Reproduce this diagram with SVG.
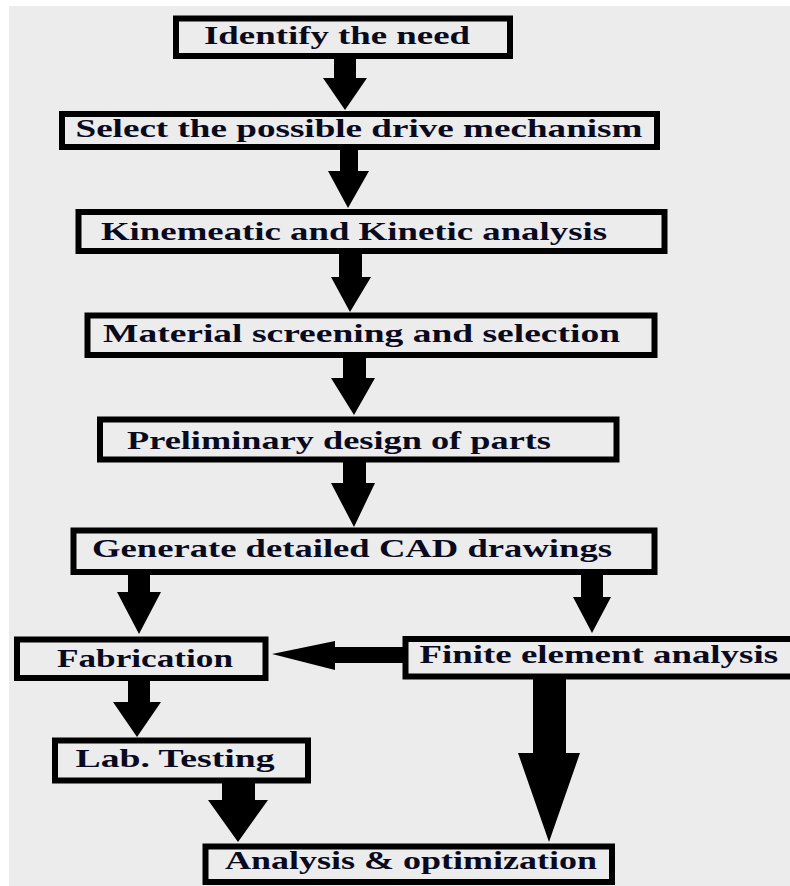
<svg xmlns="http://www.w3.org/2000/svg" width="790" height="886" viewBox="0 0 790 886">
<style>
.box{fill:#ececec;stroke:#000;stroke-width:6}
.lbl{font-family:"Liberation Serif","Times New Roman",serif;font-weight:bold;font-size:25px;fill:#0a0a1e}
.arr{fill:#000}
</style>
<rect x="0" y="0" width="790" height="886" fill="#ffffff"/>
<rect x="9" y="6" width="781" height="880" fill="#ececec"/>
<g id="connectors">
<polygon class="arr" points="334,59 356,59 356,78 367,78 345,110 323,78 334,78"/>
<polygon class="arr" points="340,150 358,150 358,171 369,171 348,208 328,171 340,171"/>
<polygon class="arr" points="339,254 362,254 362,277 371,277 350,312 331,277 339,277"/>
<polygon class="arr" points="343,358 366,358 366,378 375,378 354,415 331,378 343,378"/>
<polygon class="arr" points="343,462 366,462 366,483 375,483 354,527 331,483 343,483"/>
<polygon class="arr" points="128,575 150,575 150,592 161,592 139,634 117,592 128,592"/>
<polygon class="arr" points="581,575 603,575 603,597 611,597 592,633 573,597 581,597"/>
<polygon class="arr" points="403,647 403,663 335,663 335,670 272,654 335,641 335,647"/>
<polygon class="arr" points="128,680 150,680 150,702 161,702 137,737 113,702 128,702"/>
<polygon class="arr" points="222,783 255,783 255,800 268,800 238,842 208,800 222,800"/>
<polygon class="arr" points="533,679 566,679 566,753 580,753 549,842 518,753 533,753"/>
</g>
<g id="n1"><rect class="box" x="176" y="18.5" width="334" height="37.5"/><text class="lbl" x="204" y="43.5" textLength="266" lengthAdjust="spacingAndGlyphs">Identify the need</text></g>
<g id="n2"><rect class="box" x="62" y="114" width="595" height="33"/><text class="lbl" x="75.5" y="137" textLength="567" lengthAdjust="spacingAndGlyphs">Select the possible drive mechanism</text></g>
<g id="n3"><rect class="box" x="78.5" y="212" width="586" height="39"/><text class="lbl" x="101" y="240" textLength="506" lengthAdjust="spacingAndGlyphs">Kinemeatic and Kinetic analysis</text></g>
<g id="n4"><rect class="box" x="87.5" y="315.5" width="567" height="39.5"/><text class="lbl" x="103" y="342" textLength="517" lengthAdjust="spacingAndGlyphs">Material screening and selection</text></g>
<g id="n5"><rect class="box" x="100" y="419.5" width="516.5" height="40"/><text class="lbl" x="127" y="448.5" textLength="424" lengthAdjust="spacingAndGlyphs">Preliminary design of parts</text></g>
<g id="n6"><rect class="box" x="73.5" y="530.5" width="581" height="41.5"/><text class="lbl" x="92" y="557" textLength="520" lengthAdjust="spacingAndGlyphs">Generate detailed CAD drawings</text></g>
<g id="n7"><rect class="box" x="17" y="639.5" width="248.5" height="38.5"/><text class="lbl" x="57" y="667" textLength="176" lengthAdjust="spacingAndGlyphs">Fabrication</text></g>
<g id="n8"><rect class="box" x="405.5" y="639" width="400" height="37.5"/><text class="lbl" x="419.5" y="663" textLength="358.5" lengthAdjust="spacingAndGlyphs">Finite element analysis</text></g>
<g id="n9"><rect class="box" x="55" y="740.5" width="253" height="40"/><text class="lbl" x="75.5" y="767" textLength="199" lengthAdjust="spacingAndGlyphs">Lab. Testing</text></g>
<g id="n10"><rect class="box" x="205.5" y="846.5" width="406.5" height="35.5"/><text class="lbl" x="225" y="868.5" textLength="372" lengthAdjust="spacingAndGlyphs">Analysis &amp; optimization</text></g>
</svg>
